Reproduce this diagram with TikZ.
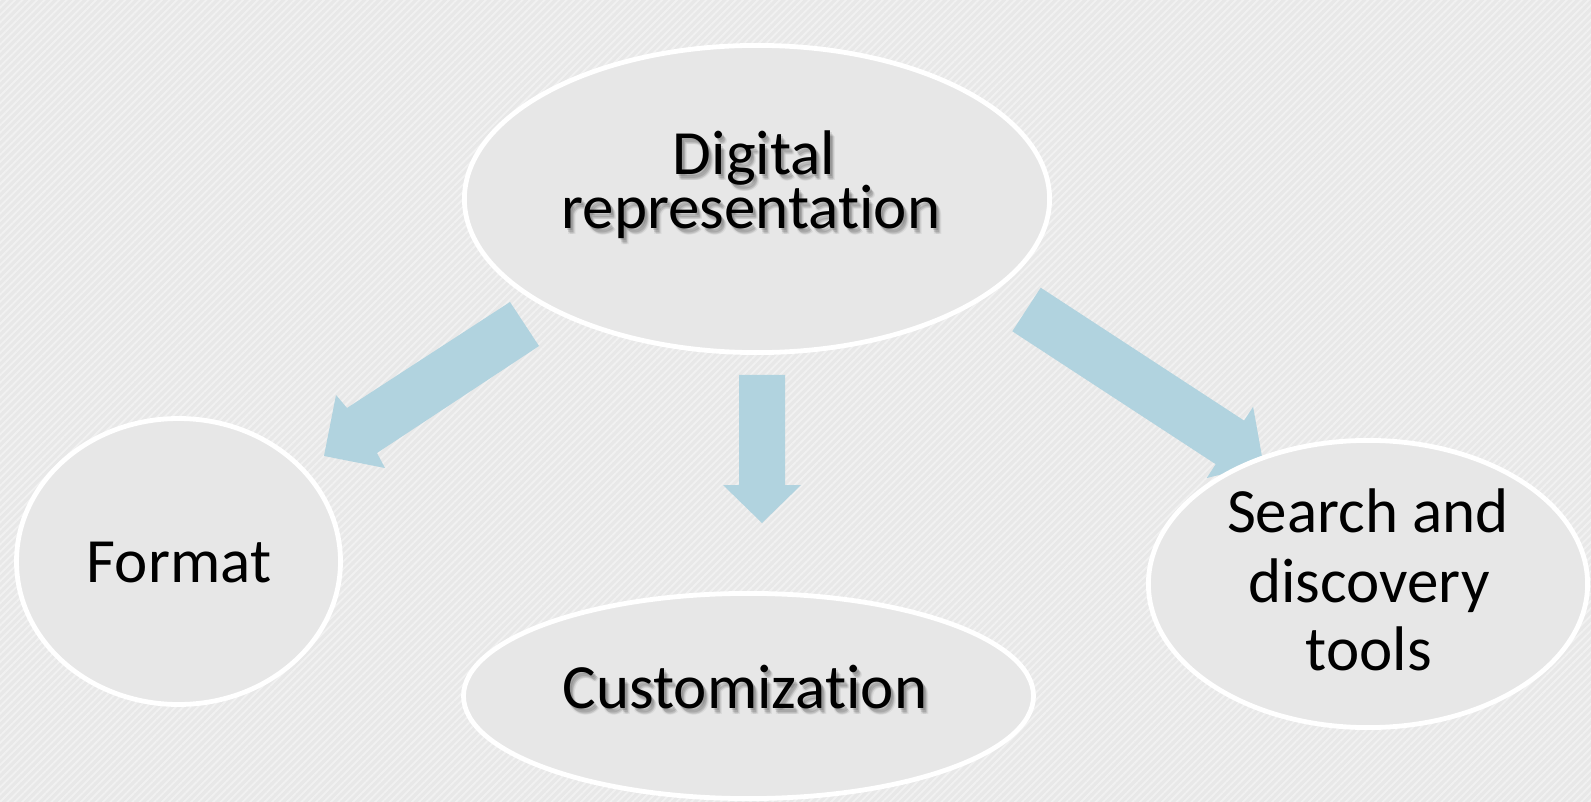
\documentclass[tikz,border=0pt]{standalone}
\usepackage{fontspec}
\setmainfont{Carlito}[Ligatures=NoCommon]
\usetikzlibrary{shapes.geometric,patterns.meta}
\definecolor{bgbase}{HTML}{E8E8E8}
\definecolor{bgstripe}{HTML}{F1F1F1}
\definecolor{bubfill}{HTML}{E7E7E7}
\definecolor{arrowblue}{HTML}{B1D3DF}
\tikzset{
  bub/.style={ellipse, draw=white, line width=2.4pt, fill=bubfill, inner sep=0pt},
  lbl/.style={anchor=base, inner sep=0pt, text=black, font=\fontsize{31.5}{37}\selectfont},
  slbl/.style={lbl, font=\fontsize{31.5}{37}\selectfont},
  arrowfill/.style={fill=arrowblue},
}
\newcommand\shadowlabel[3]{% #1 position, #2 name, #3 text
  \foreach \dx/\dy/\op in {2/2/0.1, 3/4/0.1, 4/5/0.08, 5/6/0.06, 3/6/0.05} {
    \path (#1) ++(\dx,\dy) node[slbl, text=black, opacity=\op] {#3};
  }
  \node[slbl] (#2) at (#1) {#3};
}
\begin{document}
\begin{tikzpicture}[x=0.5pt,y=-0.5pt]
\useasboundingbox (0,0) rectangle (1591,802);
\fill[bgbase] (0,0) rectangle (1591,802);
\fill[pattern={Lines[angle=45,distance=2.6pt,line width=0.9pt]}, pattern color=bgstripe] (0,0) rectangle (1591,802);

% block arrows (drawn behind the ellipses)
\fill[arrowfill] (510,302) -- (347,408) -- (336,395) -- (324,456) -- (385,468) -- (377,453) -- (539,346) -- cycle;
\fill[arrowfill] (739,375) -- (785,375) -- (785,485) -- (801,485) -- (762,523) -- (723,485) -- (739,485) -- cycle;
\fill[arrowfill] (1040.7,287.7) -- (1244.1,420.6) -- (1253.1,406.8) -- (1263.4,464.3) -- (1206.7,478) -- (1215.7,464.2) -- (1012.3,331.3) -- cycle;

% ellipses
\node[bub, minimum width=292.6pt, minimum height=153.6pt] (dig) at (757,199) {};
\node[bub, minimum width=162pt, minimum height=143pt] (fmt) at (178.5,561.5) {};
\node[bub, minimum width=285pt, minimum height=102.6pt] (cus) at (748.5,696) {};
\node[bub, minimum width=219.6pt, minimum height=143.6pt] (sea) at (1368,584) {};

% labels
\coordinate (digA) at (754,175);
\coordinate (digB) at (751,229);
\coordinate (cusA) at (745,708);
\shadowlabel{digA}{digT1}{Digital}
\shadowlabel{digB}{digT2}{representation}
\shadowlabel{cusA}{cusT}{Customization}
\node[lbl] (fmtT) at (179,582) {Format};
\node[lbl] (seaT1) at (1368,532) {Search and};
\node[lbl] (seaT2) at (1369,602) {discovery};
\node[lbl] (seaT3) at (1369,670) {tools};
\end{tikzpicture}
\end{document}
